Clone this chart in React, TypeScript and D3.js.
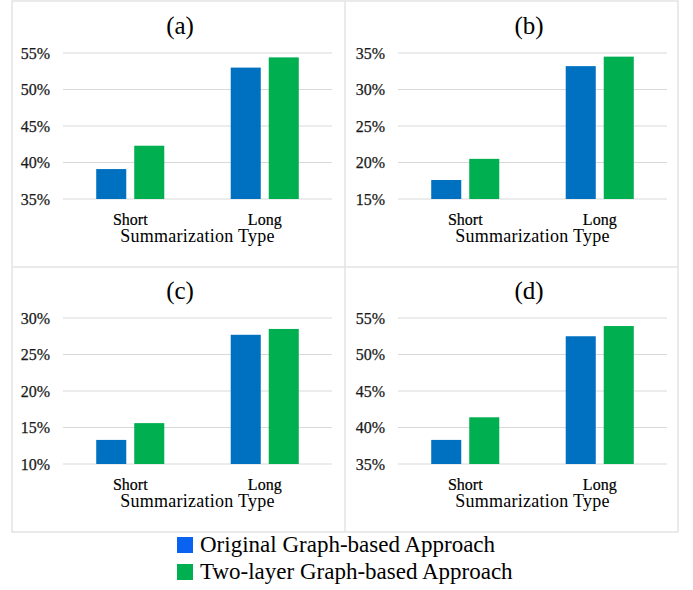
import React from "react";
import * as d3 from "d3";

const categories = ["Short", "Long"];
const seriesNames = ["Original Graph-based Approach", "Two-layer Graph-based Approach"];
const panelTitles = ["(a)", "(b)", "(c)", "(d)"];
const yDomains: [number, number][] = [[35, 55], [15, 35], [10, 30], [35, 55]];
const yTicks = [
  [35, 40, 45, 50, 55],
  [15, 20, 25, 30, 35],
  [10, 15, 20, 25, 30],
  [35, 40, 45, 50, 55],
];
// values per panel: [category][series]
const valuesA = [[39.1, 42.3], [53.0, 54.4]];
const valuesB = [[17.6, 20.5], [33.2, 34.5]];
const valuesC = [[13.3, 15.6], [27.7, 28.5]];
const valuesD = [[38.3, 41.4], [52.5, 53.9]];
const panelValues = [valuesA, valuesB, valuesC, valuesD];
const xAxisTitle = "Summarization Type";

const barColors = ["#0070C0", "#00B050"];
const legendColors = ["#0a62f0", "#00B050"];
const FONT = "'Liberation Serif', 'Times New Roman', serif";

function Panel({ idx }: { idx: number }) {
  const col = idx % 2;
  const row = Math.floor(idx / 2);
  const ox = col * 335;
  const oy = row * 265;
  const x = d3.scaleBand<string>().domain(categories).range([63, 332]).padding(0);
  const bw = x.bandwidth();
  const sub = d3
    .scaleBand<string>()
    .domain(["0", "1"])
    .range([bw * 0.247, bw * 0.753])
    .paddingInner(0.21)
    .paddingOuter(0);
  const y = d3.scaleLinear().domain(yDomains[idx]).range([199, 53]);
  const vals = panelValues[idx];
  const titleX = col === 0 ? 180 : 194;
  return (
    <g transform={`translate(${ox},${oy})`}>
      <text x={titleX} y={34} textAnchor="middle" fontSize={25} fontFamily={FONT} fill="#000">
        {panelTitles[idx]}
      </text>
      {yTicks[idx].map((t) => (
        <g key={t}>
          <line x1={63} x2={332} y1={y(t)} y2={y(t)} stroke="#d9d9d9" strokeWidth={1} />
          <text
            x={50}
            y={y(t)}
            dy="0.35em"
            textAnchor="end"
            fontSize={16}
            fontFamily={FONT}
            fill="#1a1a1a"
            stroke="#1a1a1a"
            strokeWidth={0.25}
          >
            {t}%
          </text>
        </g>
      ))}
      {categories.map((c, ci) =>
        vals[ci].map((v, si) => (
          <rect
            key={c + si}
            x={(x(c) as number) + (sub(String(si)) as number)}
            y={y(v)}
            width={sub.bandwidth()}
            height={y(yDomains[idx][0]) - y(v)}
            fill={barColors[si]}
          />
        ))
      )}
      {categories.map((c) => (
        <text
          key={c}
          x={(x(c) as number) + bw / 2}
          y={225}
          textAnchor="middle"
          fontSize={16}
          fontFamily={FONT}
          fill="#000"
          stroke="#000"
          strokeWidth={0.2}
        >
          {c}
        </text>
      ))}
      <text
        x={197.5}
        y={242}
        textAnchor="middle"
        fontSize={18}
        fontFamily={FONT}
        fill="#000"
        letterSpacing={0.25}
      >
        {xAxisTitle}
      </text>
    </g>
  );
}

export default function App() {
  return (
    <svg
      width={693}
      height={590}
      style={{ position: "absolute", left: 0, top: 0, background: "#fff" }}
    >
      <rect x={0} y={0} width={693} height={590} fill="#fff" />
      <rect x={12} y={1} width={666} height={531} fill="none" stroke="#e3e3e3" strokeWidth={1.5} />
      <line x1={12} x2={678} y1={267} y2={267} stroke="#e3e3e3" strokeWidth={1.5} />
      <line x1={345} x2={345} y1={1} y2={532} stroke="#e3e3e3" strokeWidth={1.5} />
      {[0, 1, 2, 3].map((i) => (
        <Panel key={i} idx={i} />
      ))}
      {seriesNames.map((s, i) => (
        <g key={s}>
          <rect x={177} y={537 + i * 27} width={16} height={16} fill={legendColors[i]} />
          <text x={200} y={552 + i * 27} fontSize={23} fontFamily={FONT} fill="#000">
            {s}
          </text>
        </g>
      ))}
    </svg>
  );
}
